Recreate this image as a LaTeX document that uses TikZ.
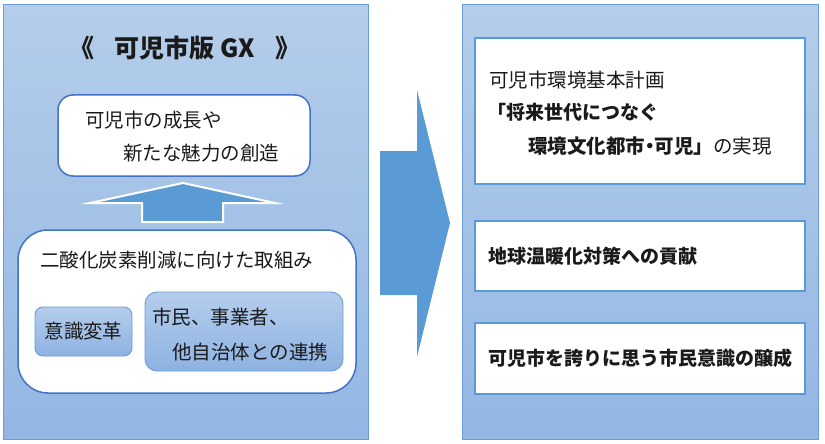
\documentclass[tikz,border=0pt]{standalone}
\usepackage{fontspec}
\newfontfamily\jp{Noto Sans CJK JP}
\definecolor{pantop}{HTML}{B4CDEA}
\definecolor{panbot}{HTML}{93B7E3}
\definecolor{panborder}{HTML}{6A9DD6}
\definecolor{boxborder}{HTML}{4472C4}
\definecolor{arrowblue}{HTML}{5B9BD5}
\definecolor{intop}{HTML}{B5CDEC}
\definecolor{inbot}{HTML}{8DB2E1}
\definecolor{txt}{HTML}{1A1A1A}
\tikzset{
  panel/.style={draw=panborder, line width=1pt, shading=axis, top color=pantop, bottom color=panbot, inner sep=0pt},
  whitebox/.style={draw=boxborder, line width=1.5pt, fill=white, inner sep=0pt},
  innerbox/.style={draw=panborder, line width=0.9pt, shading=axis, top color=intop, bottom color=inbot, inner sep=0pt},
  rightbox/.style={draw=arrowblue, line width=2.2pt, fill=white, inner sep=0pt},
  label/.style={font=\jp\fontsize{19.5pt}{21pt}\selectfont, text=txt, inner sep=0pt, anchor=west},
  boldlabel/.style={font=\jp\bfseries\fontsize{19pt}{21pt}\selectfont, text=txt, inner sep=0pt, anchor=west},
}
\begin{document}
\begin{tikzpicture}[x=1pt,y=-1pt]
\useasboundingbox (0,0) rectangle (825,444);
% panels
\node[panel, minimum width=365pt, minimum height=434pt] (lp) at (185.5,222) {};
\node[panel, minimum width=356pt, minimum height=434pt] (rp) at (640,222) {};
% title
\node[font=\jp\bfseries\fontsize{25pt}{27pt}\selectfont, text=txt, inner sep=0pt] (title) at (185,48) {《\hspace{20pt}可児市版 GX\hspace{20pt}》};
% top white box
\node[whitebox, rounded corners=15pt, minimum width=252pt, minimum height=81pt] (goal) at (184,135.5) {};
\node[label] (g1) at (85,120) {可児市の成長や};
\node[label] (g2) at (123,153) {新たな魅力の創造};
% up arrow
\path[draw=white, line width=2pt, fill=arrowblue, line join=miter, miter limit=20]
  (183,183) -- (275,203) -- (223,203) -- (223,222) -- (142,222) -- (142,203) -- (90,203) -- cycle;
% lower box
\node[whitebox, rounded corners=30pt, minimum width=338pt, minimum height=163pt] (eff) at (187,311.5) {};
\node[label] (e1) at (40,260) {二酸化炭素削減に向けた取組み};
\node[innerbox, rounded corners=8pt, minimum width=97pt, minimum height=49pt] (ishiki) at (83.5,331.5) {};
\node[label, anchor=center] (ishikit) at (ishiki.center) {意識変革};
\node[innerbox, rounded corners=12pt, minimum width=198pt, minimum height=79pt] (renkei) at (244,331.5) {};
\node[label] (r1) at (152,317) {市民、事業者、};
\node[label] (r2) at (172,352) {他自治体との連携};
% big right arrow
\path[fill=arrowblue]
  (380,151) -- (417,151) -- (417,90) -- (450,223) -- (417,357) -- (417,295) -- (380,295) -- cycle;
% right boxes
\node[rightbox, minimum width=330pt, minimum height=146pt] (b1) at (640,111) {};
\node[label] (b1a) at (489,80) {可児市環境基本計画};
\node[boldlabel] (b1b) at (487,112) {「将来世代につなぐ};
\node[label] (b1c) at (528,146) {{\bfseries 環境文化都市\kern-5pt・\kern-5pt可児」}の実現};
\node[rightbox, minimum width=330pt, minimum height=70pt] (b2) at (640,256) {};
\node[boldlabel] (b2t) at (488,256) {地球温暖化対策への貢献};
\node[rightbox, minimum width=330pt, minimum height=71pt] (b3) at (640,358.5) {};
\node[boldlabel] (b3t) at (488,358) {可児市を誇りに思う市民意識の醸成};
\end{tikzpicture}
\end{document}
